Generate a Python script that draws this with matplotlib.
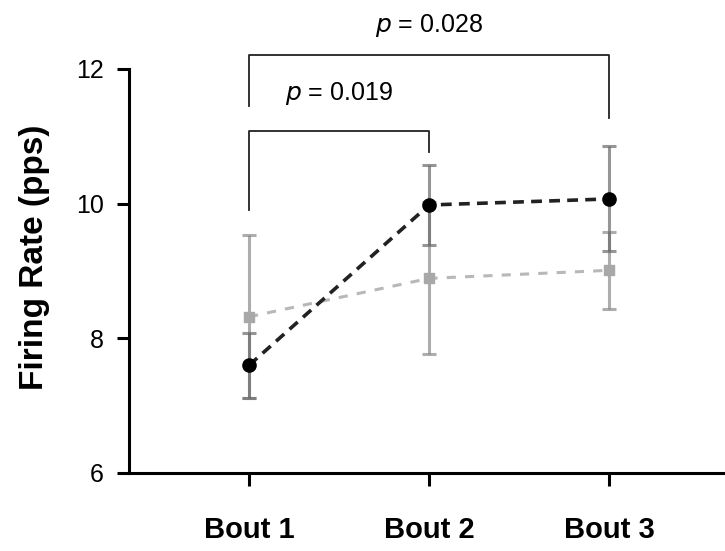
import matplotlib
matplotlib.use("Agg")
import matplotlib.pyplot as plt

plt.rcParams['font.family'] = ['Liberation Sans', 'DejaVu Sans']

bouts = ["Bout 1", "Bout 2", "Bout 3"]
x_pos = [1, 2, 3]

# black series (circles)
black_mean = [7.60, 9.98, 10.07]
black_err = [0.48, 0.60, 0.78]
# gray series (squares)
gray_mean = [8.32, 8.89, 9.01]
gray_err = [1.21, 1.13, 0.57]

# significance brackets: (x1, x2, top, left leg end, right leg end, label)
brackets = [
    (1, 2, 11.08, 9.90, 10.77, "0.019"),
    (1, 3, 12.21, 11.45, 11.27, "0.028"),
]


def main():
    fig = plt.figure(figsize=(7.25, 5.51), dpi=100)
    ax = fig.add_axes([0.178, 0.1416, 0.822, 0.7332])

    ax.errorbar(x_pos, gray_mean, yerr=gray_err, fmt='none', ecolor='#8a8a8a',
                alpha=0.7, elinewidth=2.2, capsize=4.7, capthick=2.2, zorder=2)
    ax.errorbar(x_pos, black_mean, yerr=black_err, fmt='none', ecolor='#6a6a6a',
                alpha=0.7, elinewidth=2.2, capsize=4.7, capthick=2.2, zorder=2)

    ax.plot(x_pos, gray_mean, linestyle=(0, (3, 3)), color='#b8b8b8', lw=2.2,
            marker='s', markersize=7, markerfacecolor='#a8a8a8',
            markeredgecolor='#a8a8a8', zorder=3)
    ax.plot(x_pos, black_mean, linestyle=(0, (3, 2)), color='#222222', lw=2.6,
            marker='o', markersize=9.5, markerfacecolor='black',
            markeredgecolor='black', zorder=4)

    for x1, x2, top, l_end, r_end, p in brackets:
        ax.plot([x1, x1, x2, x2], [l_end, top, top, r_end], color='#222222',
                lw=1.3, clip_on=False, zorder=5)

    ax.text(1.5, 11.63, r"$\it{p}$ = 0.019", ha='center', va='center',
            fontsize=18, clip_on=False)
    ax.text(2.0, 12.64, r"$\it{p}$ = 0.028", ha='center', va='center',
            fontsize=18, clip_on=False)

    ax.set_xlim(0.333, 3.644)
    ax.set_ylim(6, 12)
    ax.set_yticks([6, 8, 10, 12])
    ax.set_xticks(x_pos)
    ax.set_xticklabels(bouts, fontsize=21, fontweight='bold')
    ax.tick_params(axis='y', labelsize=18, length=9, width=2.2, pad=9)
    ax.tick_params(axis='x', length=9, width=2.2, pad=22)
    ax.set_ylabel("Firing Rate (pps)", fontsize=24, fontweight='bold')
    ax.yaxis.set_label_coords(-0.133, 0.535)

    for s in ['top', 'right']:
        ax.spines[s].set_visible(False)
    for s in ['left', 'bottom']:
        ax.spines[s].set_linewidth(2.2)

    fig.savefig("out.png", dpi=100)


if __name__ == '__main__':
    main()
